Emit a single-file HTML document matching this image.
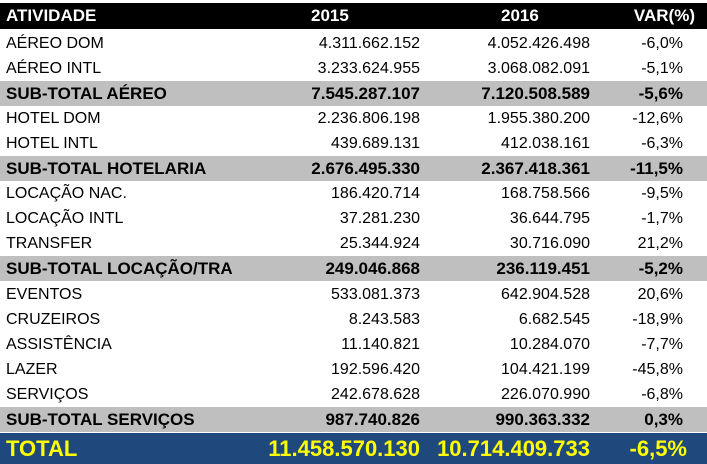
<!DOCTYPE html>
<html><head><meta charset="utf-8"><style>
body{margin:0;width:707px;height:464px;background:#fff;position:relative;overflow:hidden;font-family:"Liberation Sans",Arial,sans-serif;}
.r{position:absolute;left:0;width:707px;height:25px;font-size:16px;color:#000;}
.r span{position:absolute;top:50%;transform:translateY(-50%);white-space:nowrap;}
.a{left:6px}
.b{right:287px}
.c{right:117px}
.d{right:24px}
.g{background:#bfbfbf;font-weight:bold;font-size:17px}
.h{background:#000;color:#fff;font-weight:bold;font-size:17px}
.t{background:#1f497d;color:#ffff00;font-weight:bold;font-size:22px}
</style></head><body>
<div class="r h" style="top:3px;height:26px"><span class="a">ATIVIDADE</span><span style="left:311px">2015</span><span style="left:501px">2016</span><span style="right:12px">VAR(%)</span></div>
<div class="r" style="top:31px"><span class="a">AÉREO DOM</span><span class="b">4.311.662.152</span><span class="c">4.052.426.498</span><span class="d">-6,0%</span></div>
<div class="r" style="top:56px"><span class="a">AÉREO INTL</span><span class="b">3.233.624.955</span><span class="c">3.068.082.091</span><span class="d">-5,1%</span></div>
<div class="r g" style="top:81px"><span class="a">SUB-TOTAL AÉREO</span><span class="b">7.545.287.107</span><span class="c">7.120.508.589</span><span class="d">-5,6%</span></div>
<div class="r" style="top:106px"><span class="a">HOTEL DOM</span><span class="b">2.236.806.198</span><span class="c">1.955.380.200</span><span class="d">-12,6%</span></div>
<div class="r" style="top:131px"><span class="a">HOTEL INTL</span><span class="b">439.689.131</span><span class="c">412.038.161</span><span class="d">-6,3%</span></div>
<div class="r g" style="top:156px"><span class="a">SUB-TOTAL HOTELARIA</span><span class="b">2.676.495.330</span><span class="c">2.367.418.361</span><span class="d">-11,5%</span></div>
<div class="r" style="top:181px"><span class="a">LOCAÇÃO NAC.</span><span class="b">186.420.714</span><span class="c">168.758.566</span><span class="d">-9,5%</span></div>
<div class="r" style="top:206px"><span class="a">LOCAÇÃO INTL</span><span class="b">37.281.230</span><span class="c">36.644.795</span><span class="d">-1,7%</span></div>
<div class="r" style="top:231px"><span class="a">TRANSFER</span><span class="b">25.344.924</span><span class="c">30.716.090</span><span class="d">21,2%</span></div>
<div class="r g" style="top:256px"><span class="a">SUB-TOTAL LOCAÇÃO/TRA</span><span class="b">249.046.868</span><span class="c">236.119.451</span><span class="d">-5,2%</span></div>
<div class="r" style="top:282px"><span class="a">EVENTOS</span><span class="b">533.081.373</span><span class="c">642.904.528</span><span class="d">20,6%</span></div>
<div class="r" style="top:307px"><span class="a">CRUZEIROS</span><span class="b">8.243.583</span><span class="c">6.682.545</span><span class="d">-18,9%</span></div>
<div class="r" style="top:332px"><span class="a">ASSISTÊNCIA</span><span class="b">11.140.821</span><span class="c">10.284.070</span><span class="d">-7,7%</span></div>
<div class="r" style="top:357px"><span class="a">LAZER</span><span class="b">192.596.420</span><span class="c">104.421.199</span><span class="d">-45,8%</span></div>
<div class="r" style="top:382px"><span class="a">SERVIÇOS</span><span class="b">242.678.628</span><span class="c">226.070.990</span><span class="d">-6,8%</span></div>
<div class="r g" style="top:407px"><span class="a">SUB-TOTAL SERVIÇOS</span><span class="b">987.740.826</span><span class="c">990.363.332</span><span class="d">0,3%</span></div>
<div class="r t" style="top:433px;height:31px"><span class="a">TOTAL</span><span class="b">11.458.570.130</span><span class="c">10.714.409.733</span><span class="d" style="right:20px">-6,5%</span></div>
</body></html>
